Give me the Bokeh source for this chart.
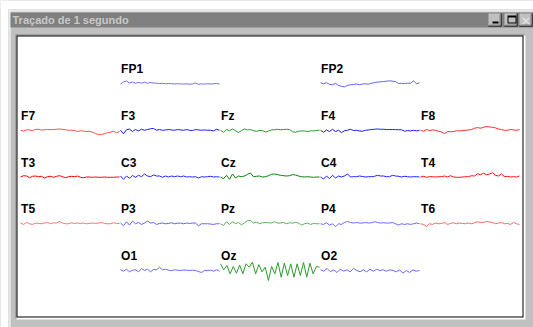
import numpy as np
from bokeh.plotting import figure
from bokeh.models import Range1d, ColumnDataSource, BoxAnnotation, Label
from bokeh.core.properties import value
from bokeh.embed import file_html
from bokeh.resources import INLINE

window_title = "Traçado de 1 segundo"

# electrode montage: name, column, row
channels = ["FP1", "FP2", "F7", "F3", "Fz", "F4", "F8", "T3", "C3", "Cz", "C4", "T4",
            "T5", "P3", "Pz", "P4", "T6", "O1", "Oz", "O2"]
columns = [1, 3, 0, 1, 2, 3, 4, 0, 1, 2, 3, 4, 0, 1, 2, 3, 4, 1, 2, 3]
rows = [0, 0, 1, 1, 1, 1, 1, 2, 2, 2, 2, 2, 3, 3, 3, 3, 3, 4, 4, 4]

# one second of signal per electrode (upward deflection, µV-scaled)
fp1 = [-0.5, 1.5, 2.5, 0.5, 1.5, 0.2, 1.2, 0.3, 1.3, 0.2, 1.0, 0.5, 0.3, 0.0, 0.2, -0.3, 0.0,
       -0.2, -0.5, -0.2, -0.4, -0.6, -0.3, -0.7, -0.5, 0.5, -0.8, -0.4, -0.6, -0.2, -0.5, -0.3, 0.0, -0.4]
fp2 = [0.7, -0.3, 0.8, -0.8, -1.3, 0.2, -2.0, -2.8, -3.3, -1.8, -1.3, -1.0, -0.5, -1.3, -0.5, -0.3,
       -0.7, 0.2, 1.0, 1.4, 1.7, 2.0, 2.3, 2.7, 2.3, 2.0, 0.0, 0.2, 0.0, 0.3, 0.3, 2.7, -0.3, 0.7]
f7 = [0.0, -0.8, 0.5, 0.2, -0.3, 0.8, 1.0, 0.2, 0.5, 0.8, 0.6, 0.7, 1.0, 1.3, 0.8, 0.5, 0.0, 0.1,
      -0.3, -1.2, -0.5, -0.8, -1.3, -1.0, -2.0, -3.2, -4.5, -4.2, -3.5, -2.5, -2.0, -0.8, -2.5, -1.3]
f3 = [0.0, -3.5, 0.5, 1.2, -1.2, 0.7, -0.7, 1.0, 0.0, 0.7, 1.5, 1.8, 0.0, 0.7, 0.0, 0.3, 0.7, 0.3,
      0.0, 0.7, 0.3, 0.0, 0.7, 0.0, -0.3, 0.7, 0.3, 0.0, 0.3, 0.0, 0.0, -0.7, 1.0, 0.0]
fz = [0.0, -2.0, 0.8, -0.5, 1.3, -0.5, -2.3, -0.3, 1.3, 0.3, 0.7, -0.5, -1.0, -0.3, -0.3, -1.8, -0.7,
      0.3, 0.5, 1.0, 0.5, 0.7, 1.0, 0.7, -1.5, -2.0, -1.0, -0.7, -0.7, -1.3, -0.5, -0.7, -0.3, 0.0]
f4 = [0.0, -2.0, 0.3, -1.3, 1.0, -1.3, 0.0, -2.3, -0.5, 0.0, 1.0, -0.3, 0.0, -0.7, -1.0, 0.0, 0.3,
      0.7, 1.0, 1.3, 1.0, 1.0, 0.7, 0.7, 0.7, 0.7, 0.5, 0.5, -1.0, -0.3, -0.7, 0.0, -0.7, 0.0]
f8 = [0.0, -1.0, 0.7, -0.3, 0.3, 0.0, -1.0, -1.7, -3.3, -1.3, -1.5, -1.3, -0.5, -0.7, -0.3, 0.0, 0.3,
      0.7, 2.0, 2.7, 2.0, 3.0, 3.7, 3.3, 3.0, 2.3, 1.3, 0.7, 0.0, 0.0, 0.7, 0.3, 0.0, 0.7]
t3 = [0.0, 1.3, 1.0, -0.7, 0.7, 1.0, 0.3, 0.7, -1.0, 0.3, 0.7, -0.3, 0.7, 1.3, 0.3, -0.7, 0.3, 0.7,
      0.3, 1.0, -0.3, -0.7, 0.0, 0.0, -0.3, 0.0, -0.3, -0.3, 0.0, -0.3, -0.3, -0.3, 0.0, 0.0]
c3 = [1.0, -2.3, 1.0, -1.3, 1.5, -0.3, 1.7, 0.3, 3.0, 1.0, 0.3, 2.0, 1.0, 1.0, -0.3, 1.0, 0.0, 1.0,
      0.3, 1.0, 0.3, 1.0, 0.0, 0.3, 0.0, 0.3, -1.0, 0.3, 0.0, 0.3, 0.7, 0.0, 0.3, 0.0]
cz = [0.0, -1.7, 1.7, -2.3, 3.0, -1.0, 1.0, 0.3, 1.0, 2.7, 4.0, 0.3, 0.7, 1.0, 0.0, 0.3, 1.3, 2.7,
      3.0, 2.3, 1.7, 1.3, 1.0, 1.3, 2.3, 2.0, 1.0, 0.3, 0.0, 0.3, 0.0, -0.3, 0.0, 0.0]
c4 = [0.0, -2.0, 1.0, -1.7, 1.7, -1.0, 1.0, 0.0, 1.0, 3.0, 0.0, 0.3, 0.3, 1.0, 0.5, 0.0, 0.3, 0.3,
      0.7, 1.7, 1.0, 1.0, 0.3, 0.3, 1.7, 1.0, 0.7, 0.0, 0.7, 0.3, 0.0, 0.3, 0.3, 0.0]
t4 = [0.0, 0.7, -0.3, 0.3, 0.3, 0.0, 0.3, 0.3, 1.0, 0.0, 1.3, 0.0, -0.3, -0.3, 0.0, 0.3, 0.3, 1.3,
      1.0, 3.3, 2.3, 3.7, 2.3, 3.0, 4.3, 1.7, 1.0, 3.0, 0.3, 0.7, 0.0, 0.3, 0.0, 1.0]
t5 = [0.7, -0.7, 1.3, 0.0, -0.7, 0.7, 0.3, 0.0, 0.7, 1.3, 0.0, 1.0, 0.7, 2.3, 0.7, 0.0, 0.0, 1.0,
      0.3, 0.7, 0.3, 0.7, 0.0, 0.3, 0.7, 0.3, 0.7, 1.3, 0.3, 0.0, 0.0, 1.0, 0.3, 0.3]
p3 = [0.7, -2.0, 2.0, -1.3, 2.7, 0.0, 1.3, -0.7, 0.7, 2.7, 0.7, 1.3, -0.7, 0.3, 0.7, 0.0, 0.3, 1.0,
      0.0, 0.5, 0.7, 0.0, 0.7, 0.3, 0.7, 0.7, -2.0, 0.0, 0.0, 0.0, -0.3, -0.7, 0.0, 0.0]
pz = [0.0, -1.7, 2.0, -0.7, 2.0, 0.0, 1.3, -1.3, 1.0, 3.0, 3.3, 0.7, 1.7, 0.0, 1.0, 1.3, 1.0, 0.7,
      2.0, 0.7, 0.7, 1.3, 0.0, 1.0, 0.7, 1.3, 0.7, -1.3, 0.0, 0.7, -0.7, 0.3, 0.0, 0.0]
p4 = [0.0, -0.7, 1.0, -1.3, 0.0, -3.0, 0.0, -0.7, 1.3, 2.3, 1.3, 0.7, 1.3, 0.7, 0.7, 1.3, 0.7, 1.0,
      2.0, 1.3, 0.7, 1.0, 0.7, 0.7, 1.3, 0.0, -1.3, 0.0, -0.7, 0.0, -0.7, 0.0, 0.7, 0.0]
t6 = [0.0, -0.7, -2.7, 0.0, -0.7, 0.7, 0.0, 0.3, 1.3, -0.7, 0.3, 1.0, 0.0, 0.7, 0.3, 0.0, 0.7, 0.0,
      1.0, 2.0, 1.3, 1.3, 2.3, 1.7, 1.3, 0.0, 0.7, 1.3, 0.0, 0.3, -0.7, 1.3, 0.0, -0.7]
o1 = [0.7, -0.7, 1.3, -1.3, 0.3, 0.7, -1.3, 2.0, 0.0, 1.3, -1.3, 1.0, 0.7, 3.3, 0.7, 1.3, 0.3, 0.0,
      0.7, 0.3, 0.0, 0.5, 0.3, 0.0, 0.3, 0.0, -1.0, -2.0, 0.0, 0.0, 0.3, -0.7, 0.7, -0.7]
oz = [6.7, 0.7, 5.0, -3.3, 4.0, -2.7, 5.3, -3.3, 6.7, 3.3, 8.3, -3.3, 6.0, -1.3, 3.3, -10.0, 4.0,
      -3.3, 8.0, -6.7, 7.3, -5.0, 6.7, -6.7, 6.7, -5.0, 8.0, -6.7, 7.3, -3.3, 4.0, 3.3]
o2 = [0.7, -0.7, 2.0, -1.3, 0.7, -2.0, 1.3, -0.7, 0.7, -1.3, 2.0, 0.0, -1.3, 0.7, -1.3, 1.3, -0.7,
      1.3, 0.0, 0.7, -0.7, 0.7, 0.0, -1.3, 0.7, -2.7, 0.0, -2.0, 0.7, -0.7, 0.0]

signals = [fp1, fp2, f7, f3, fz, f4, f8, t3, c3, cz, c4, t4, t5, p3, pz, p4, t6, o1, oz, o2]
trace_colors = ["#6f6fff", "#6060ff", "#ff4c4c", "#1c1cff", "#2a962a", "#1a1aff", "#ff2a2a",
                "#ff0000", "#2626ff", "#0a800a", "#2020ff", "#ff1010", "#ff7373", "#6262ff",
                "#5cae5c", "#6a6aff", "#ff6666", "#6868ff", "#2f9a2f", "#6868ff"]

ROW_STEP = 46.75
LABEL_LIFT = 14.5
W, H = 533, 327

p = figure(width=W, height=H, output_backend="svg", toolbar_location=None,
           x_range=Range1d(-0.20, 5.13), y_range=Range1d(-244, 83),
           x_axis_type=None, y_axis_type=None,
           min_border_left=0, min_border_right=0, min_border_top=0, min_border_bottom=0,
           border_fill_color="#c0c0c0", background_fill_color="#c0c0c0",
           outline_line_color=None)
p.title.visible = False


def box(l, t, r, b, fill=None, line=None, lw=1, level="underlay"):
    ba = BoxAnnotation(left=l, right=r, top=t, bottom=b,
                       left_units="canvas", right_units="canvas",
                       top_units="canvas", bottom_units="canvas",
                       fill_color=fill, fill_alpha=1 if fill else 0,
                       line_color=line, line_alpha=1 if line else 0, line_width=lw,
                       level=level)
    p.add_layout(ba)


# page around the window
box(0, 0, W, 9, fill="#ffffff")
box(0, 0, 8, H, fill="#ffffff")
# window edge highlight
box(8, 9, W, 10, fill="#dfdfdf")
box(8, 9, 9, H, fill="#dfdfdf")
box(9, 10, W, 11, fill="#ffffff")
box(9, 10, 10, H, fill="#ffffff")
# title bar
box(10, 12, W, 27, fill="#808080")
# sunken drawing area
box(15, 34, 524, 318, fill="#808080")
box(16, 35, 525, 319, fill="#ffffff")
box(16, 35, 523, 317, fill="#000000")
box(17, 36, 522, 316, fill="#ffffff")
# caption buttons
for bl in (488, 504, 519):
    box(bl, 13, bl + 13, 26, fill="#000000")
    box(bl, 13, bl + 12, 25, fill="#ffffff")
    box(bl + 1, 14, bl + 12, 25, fill="#808080")
    box(bl + 1, 14, bl + 11, 24, fill="#c0c0c0")
box(492, 21, 498, 23, fill="#000000")
box(507, 15, 516, 23, fill="#000000")
box(508, 17, 515, 22, fill="#c0c0c0")

for name, col, row, sig, colr in zip(channels, columns, rows, signals, trace_colors):
    sig = np.asarray(sig, dtype=float)
    t = np.linspace(0.0, 0.99, len(sig))
    src = ColumnDataSource(dict(x=col + t, y=-row * ROW_STEP + sig))
    p.line("x", "y", source=src, line_color=colr, line_width=1)

lab = ColumnDataSource(dict(
    x=[c + 0.006 for c in columns],
    y=[-r * ROW_STEP + LABEL_LIFT for r in rows],
    text=channels))
p.text("x", "y", text="text", source=lab, text_font=value("Liberation Sans"),
       text_font_style="bold", text_font_size="12px", text_color="black",
       text_baseline="alphabetic", text_align="left")

p.add_layout(Label(x=12, y=19.5, x_units="canvas", y_units="canvas", text=window_title,
                   text_color="#c8c8c8", text_font="Liberation Sans", text_font_style="bold",
                   text_font_size="11px", text_baseline="middle"))
p.add_layout(Label(x=525.5, y=19.5, x_units="canvas", y_units="canvas", text="×",
                   text_color="#e8e8e8", text_font="DejaVu Sans", text_font_size="13px",
                   text_baseline="middle", text_align="center"))

open("out.html", "w").write(file_html(p, INLINE))
